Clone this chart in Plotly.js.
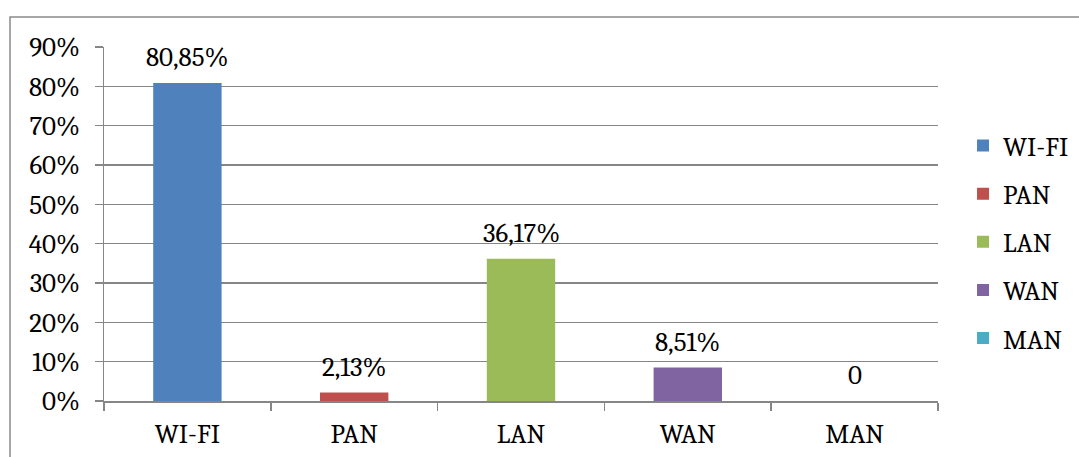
<!DOCTYPE html>
<html>
<head>
<meta charset="utf-8">
<script src="https://cdn.plot.ly/plotly-3.0.1.min.js"></script>
<style>html,body{margin:0;padding:0;background:#fff;}#chart{width:1079px;height:457px;}</style>
</head>
<body>
<div id="chart"></div>
<script>
const categories = ["WI-FI", "PAN", "LAN", "WAN", "MAN"];
const values = [80.85, 2.13, 36.17, 8.51, 0];
const labels = ["80,85%", "2,13%", "36,17%", "8,51%", "0"];
const colors = ["#4F81BD", "#C0504D", "#9BBB59", "#8064A2", "#4BACC6"];
const yTicks = [0, 10, 20, 30, 40, 50, 60, 70, 80, 90];

const FONT = "Caladea";
const FS = 27;

const traces = categories.map((c, i) => ({
  type: "bar",
  name: c,
  x: [c],
  y: [values[i]],
  marker: {color: colors[i]},
  width: 0.41,
  legendgroup: "g" + i,
  hoverinfo: "skip"
}));

const annotations = categories.map((c, i) => ({
  x: c, y: values[i], xref: "x", yref: "y",
  text: labels[i], showarrow: false,
  yanchor: "bottom", yshift: 8,
  font: {family: FONT, size: FS, color: "#000"}
}));

// chart border (top and left edges visible)
const shapes = [{
  type: "path", xref: "paper", yref: "paper",
  path: "M -0.1127,-0.3 L -0.1127,1.0847 L 1.3,1.0847",
  line: {color: "#8a8a8a", width: 1.5}
}];

const layout = {
  width: 1079, height: 457,
  margin: {l: 104, r: 141, t: 47, b: 56, pad: 0, autoexpand: false},
  paper_bgcolor: "#fff", plot_bgcolor: "#fff",
  font: {family: FONT, size: FS, color: "#000"},
  showlegend: true,
  barmode: "overlay",
  xaxis: {
    type: "category", categoryorder: "array", categoryarray: categories,
    tickson: "boundaries", ticks: "outside", ticklen: 8, tickwidth: 1.5, tickcolor: "#868686",
    showline: true, linecolor: "#868686", linewidth: 1.5,
    showgrid: false, zeroline: false, automargin: false,
    ticklabelstandoff: 8,
    tickfont: {family: FONT, size: FS, color: "#000"},
    fixedrange: true
  },
  yaxis: {
    range: [0, 90], tickvals: yTicks, ticktext: yTicks.map(v => v + "%"),
    ticks: "outside", ticklen: 8, tickwidth: 1.5, tickcolor: "#868686",
    showline: true, linecolor: "#868686", linewidth: 1.5,
    showgrid: true, gridcolor: "#868686", gridwidth: 1.5,
    zeroline: false, automargin: false,
    ticklabelstandoff: 9,
    tickfont: {family: FONT, size: FS, color: "#000"},
    fixedrange: true
  },
  legend: {
    x: 1.030, xanchor: "left", y: 0.449, yanchor: "middle",
    traceorder: "grouped", tracegroupgap: 10,
    font: {family: FONT, size: FS, color: "#000"},
    bgcolor: "rgba(0,0,0,0)", itemclick: false
  },
  annotations: annotations,
  shapes: shapes
};

Plotly.newPlot("chart", traces, layout, {displayModeBar: false, staticPlot: true});
</script>
</body>
</html>
